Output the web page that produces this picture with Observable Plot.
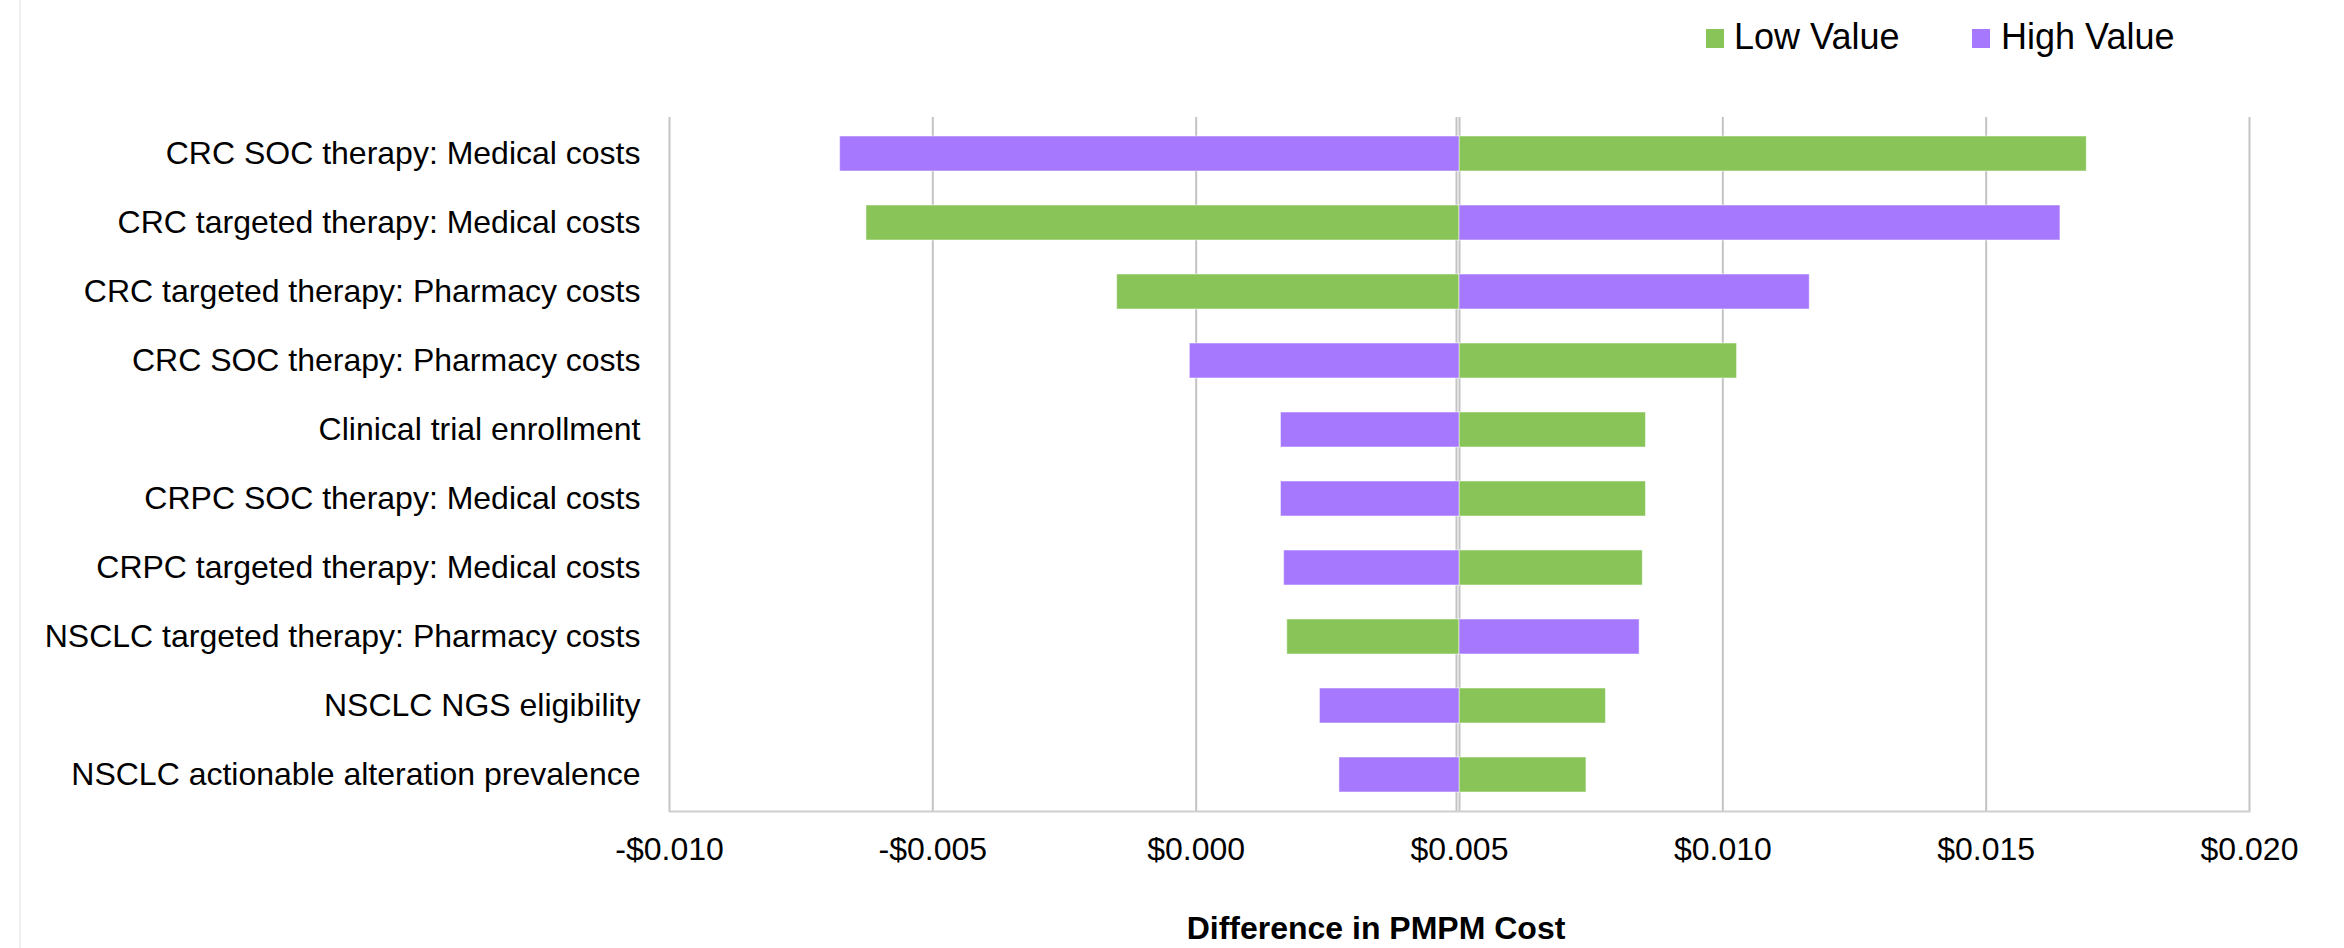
<!DOCTYPE html>
<html>
<head>
<meta charset="utf-8">
<script src="https://cdn.jsdelivr.net/npm/d3@7"></script>
<script src="https://cdn.jsdelivr.net/npm/@observablehq/plot@0.6"></script>
<style>
  html, body { margin: 0; padding: 0; background: #ffffff; }
  #wrap { position: relative; width: 2344px; height: 948px; overflow: hidden; font-family: "Liberation Sans", Arial, sans-serif; }
  #border { position: absolute; left: 19px; top: 0; width: 2px; height: 948px; background: #f0f0f0; }
  .leg { position: absolute; font-size: 36px; line-height: 36px; color: #000; white-space: nowrap; }
  .sw { position: absolute; width: 18px; height: 19px; }
  #xtitle { position: absolute; top: 912px; left: 1376px; transform: translateX(-50%); font-weight: bold; font-size: 32px; line-height: 32px; white-space: nowrap; color: #000; }
  #chart { position: absolute; left: 0; top: 0; }
</style>
</head>
<body>
<div id="wrap">
  <div id="border"></div>
  <div id="chart"></div>
  <div id="legend"></div>
  <div id="xtitle"></div>
</div>
<script>
// ---- data ----
const categories = [
  "CRC SOC therapy: Medical costs",
  "CRC targeted therapy: Medical costs",
  "CRC targeted therapy: Pharmacy costs",
  "CRC SOC therapy: Pharmacy costs",
  "Clinical trial enrollment",
  "CRPC SOC therapy: Medical costs",
  "CRPC targeted therapy: Medical costs",
  "NSCLC targeted therapy: Pharmacy costs",
  "NSCLC NGS eligibility",
  "NSCLC actionable alteration prevalence"
];
const lowValues  = [0.01691, -0.00626, -0.00150, 0.01027, 0.00854, 0.00854, 0.00848, 0.00173, 0.00778, 0.00741];
const highValues = [-0.00676, 0.01641, 0.01165, -0.00012, 0.00161, 0.00161, 0.00167, 0.00842, 0.00235, 0.00272];
const baseValue = 0.005;
const seriesNames = ["Low Value", "High Value"];
const seriesColors = ["#88c457", "#a678fe"];
const xTicks = [-0.010, -0.005, 0.000, 0.005, 0.010, 0.015, 0.020];
const xTitle = "Difference in PMPM Cost";

// ---- table ----
const rows = [];
categories.forEach((c, i) => {
  rows.push({cat: c, series: seriesNames[0], value: lowValues[i]});
  rows.push({cat: c, series: seriesNames[1], value: highValues[i]});
});

const fmt = d => (d < -1e-12 ? "-" : "") + "$" + Math.abs(d).toFixed(3);

const chart = Plot.plot({
  width: 2344,
  height: 948,
  marginTop: 117,
  marginBottom: 137,
  marginLeft: 669,
  marginRight: 95,
  style: {fontFamily: "'Liberation Sans', Arial, sans-serif", fontSize: "32px", color: "#000", background: "transparent"},
  x: {domain: [-0.010, 0.020], ticks: xTicks, tickFormat: fmt, label: null},
  y: {domain: categories, paddingInner: 0.5, paddingOuter: 0.25, label: null},
  color: {domain: seriesNames, range: seriesColors},
  marks: [
    Plot.gridX(xTicks, {stroke: "#c4c4c4", strokeOpacity: 1, strokeWidth: 2}),
    Plot.ruleX([baseValue], {stroke: "#c4c4c4", strokeWidth: 2, dx: -3}),
    Plot.barX(rows, {y: "cat", x1: () => baseValue, x2: "value", fill: "series", stroke: "#ffffff", strokeOpacity: 0.5, strokeWidth: 1, inset: 0}),
    Plot.frame({anchor: "bottom", stroke: "#cfcfcf", strokeWidth: 2}),
    Plot.axisX({ticks: xTicks, tickFormat: fmt, tickSize: 0, tickPadding: 26, label: null, fontSize: 32}),
    Plot.axisY({tickSize: 0, tickPadding: 29, label: null, fontSize: 32})
  ]
});
document.getElementById("chart").appendChild(chart);

// ---- legend ----
const legend = document.getElementById("legend");
const legendPos = [{sw: 1706, tx: 1734}, {sw: 1972, tx: 2001}];
seriesNames.forEach((name, i) => {
  const sw = document.createElement("div");
  sw.className = "sw";
  sw.style.left = legendPos[i].sw + "px";
  sw.style.top = "29px";
  sw.style.background = seriesColors[i];
  legend.appendChild(sw);
  const t = document.createElement("div");
  t.className = "leg";
  t.style.left = legendPos[i].tx + "px";
  t.style.top = "19px";
  t.textContent = name;
  legend.appendChild(t);
});
document.getElementById("xtitle").textContent = xTitle;
</script>
</body>
</html>
